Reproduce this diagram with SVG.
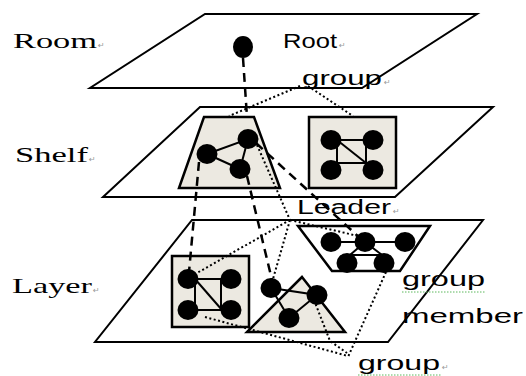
<svg xmlns="http://www.w3.org/2000/svg" width="526" height="376" viewBox="0 0 526 376">
<style>
.plane{fill:none;stroke:#000;stroke-width:2}
.grp{fill:#ece9e1;stroke:#000;stroke-width:2.5}
.grpw{fill:#fff;stroke:#000;stroke-width:2.5}
.edge{stroke:#000;stroke-width:2;fill:none}
.nd{fill:#000}
.dash{stroke:#000;stroke-width:2.5;stroke-dasharray:9 6;fill:none}
.dot{stroke:#000;stroke-width:2;stroke-dasharray:2 2.5;fill:none}
.serif{font-family:"Liberation Serif","Times New Roman",serif;font-size:22px;fill:#000}
.sans{font-family:"Liberation Sans",Arial,sans-serif;font-size:20px;fill:#000}
.ret{font-family:"DejaVu Sans",sans-serif;font-size:8px;fill:#999}
.sq{stroke:#5cb85c;stroke-width:1;stroke-dasharray:1.5 1.5;fill:none}
</style>
<rect width="526" height="376" fill="#fff"/>
<g id="plane-room"><polygon class="plane" points="205,14 477,14 362,88 90,88"/></g>
<g id="plane-shelf"><polygon class="plane" points="200,107 493,107 395,197 103,197"/></g>
<g id="plane-layer"><polygon class="plane" points="192,220 483,220 388,342 95,342"/></g>
<g id="shelf-group-leader">
<polygon class="grp" points="204,117 254,117 280,188 179,188"/>
<polyline class="edge" points="207,154 248,139 240,169 207,154"/>
</g>
<g id="shelf-group-square">
<rect class="grp" x="309" y="117" width="87" height="71"/>
<rect class="edge" x="337" y="140" width="29" height="23"/>
<line class="edge" x1="337" y1="140" x2="366" y2="163"/>
</g>
<g id="layer-group-square">
<rect class="grp" x="172" y="256" width="77" height="71"/>
<rect class="edge" x="195" y="279" width="26" height="31"/>
<line class="edge" x1="195" y1="279" x2="222" y2="310"/>
</g>
<g id="layer-group-triangle">
<polygon class="grp" points="302,277 345,332 247,332"/>
<polyline class="edge" points="271,288 317,295 289,318 271,288"/>
</g>
<g id="layer-group-leader">
<polygon class="grpw" points="298,226 430,226 400,271 332,271"/>
<line class="edge" x1="331" y1="242" x2="405" y2="242"/>
<polyline class="edge" points="365,242 350,255 382,255 365,242"/>
</g>
<g id="connectors">
<line class="dash" x1="243" y1="58" x2="247" y2="117"/>
<line class="dash" x1="199" y1="162" x2="189" y2="272"/>
<line class="dash" x1="247" y1="176" x2="272" y2="280"/>
<line class="dash" x1="256" y1="143" x2="360" y2="238"/>
<line class="dot" x1="300" y1="86" x2="229" y2="116"/>
<line class="dot" x1="308" y1="86" x2="353" y2="116"/>
<line class="dot" x1="257" y1="145" x2="290" y2="220"/>
<line class="dot" x1="290" y1="220" x2="197" y2="273"/>
<line class="dot" x1="290" y1="220" x2="273" y2="279"/>
<line class="dot" x1="290" y1="220" x2="358" y2="236"/>
<line class="dot" x1="386" y1="272" x2="348" y2="357"/>
<line class="dot" x1="205" y1="317" x2="348" y2="356"/>
<polyline class="dot" points="314,300 330,341 347,353"/>
</g>
<g id="nodes">
<ellipse id="root" class="nd" cx="243" cy="47" rx="10" ry="11"/>
<ellipse class="nd" cx="207" cy="154" rx="10.5" ry="10"/>
<ellipse class="nd" cx="248" cy="139" rx="10.5" ry="10"/>
<ellipse class="nd" cx="240" cy="169" rx="10.5" ry="10"/>
<ellipse class="nd" cx="331" cy="140" rx="10.5" ry="10"/>
<ellipse class="nd" cx="373" cy="140" rx="10.5" ry="10"/>
<ellipse class="nd" cx="331" cy="170" rx="10.5" ry="10"/>
<ellipse class="nd" cx="373" cy="170" rx="10.5" ry="10"/>
<ellipse class="nd" cx="188" cy="279" rx="10.5" ry="10"/>
<ellipse class="nd" cx="231" cy="279" rx="10.5" ry="10"/>
<ellipse class="nd" cx="188" cy="310" rx="10.5" ry="10"/>
<ellipse class="nd" cx="231" cy="310" rx="10.5" ry="10"/>
<ellipse class="nd" cx="271" cy="288" rx="10.5" ry="10"/>
<ellipse class="nd" cx="317" cy="295" rx="10.5" ry="10"/>
<ellipse class="nd" cx="289" cy="318" rx="10.5" ry="10"/>
<ellipse class="nd" cx="331" cy="242" rx="10.5" ry="10"/>
<ellipse class="nd" cx="365" cy="242" rx="10.5" ry="10"/>
<ellipse class="nd" cx="405" cy="242" rx="10.5" ry="10"/>
<ellipse class="nd" cx="347" cy="263" rx="10.5" ry="10"/>
<ellipse class="nd" cx="384" cy="263" rx="10.5" ry="10"/>
</g>
<g id="labels">
<text class="serif" x="13" y="48" textLength="84" lengthAdjust="spacingAndGlyphs">Room</text>
<text class="ret" x="98" y="48">↵</text>
<text class="serif" x="15" y="162" textLength="73" lengthAdjust="spacingAndGlyphs">Shelf</text>
<text class="ret" x="89" y="162">↵</text>
<text class="serif" x="12" y="293" textLength="80" lengthAdjust="spacingAndGlyphs">Layer</text>
<text class="ret" x="93" y="293">↵</text>
<text class="sans" x="283" y="48" textLength="54" lengthAdjust="spacingAndGlyphs">Root</text>
<text class="ret" x="339" y="48">↵</text>
<text class="sans" x="302" y="85" textLength="80" lengthAdjust="spacingAndGlyphs">group</text>
<text class="ret" x="384" y="85">↵</text>
<text class="sans" x="297" y="214" textLength="94" lengthAdjust="spacingAndGlyphs">Leader</text>
<text class="ret" x="393" y="214">↵</text>
<text class="sans" x="402" y="286" textLength="83" lengthAdjust="spacingAndGlyphs">group</text>
<line class="sq" x1="402" y1="292" x2="486" y2="292"/>
<text class="sans" x="402" y="323" textLength="121" lengthAdjust="spacingAndGlyphs">member</text>
<text class="sans" x="358" y="370" textLength="82" lengthAdjust="spacingAndGlyphs">group</text>
<text class="ret" x="442" y="370">↵</text>
<line class="sq" x1="358" y1="375" x2="441" y2="375"/>
</g>
</svg>
